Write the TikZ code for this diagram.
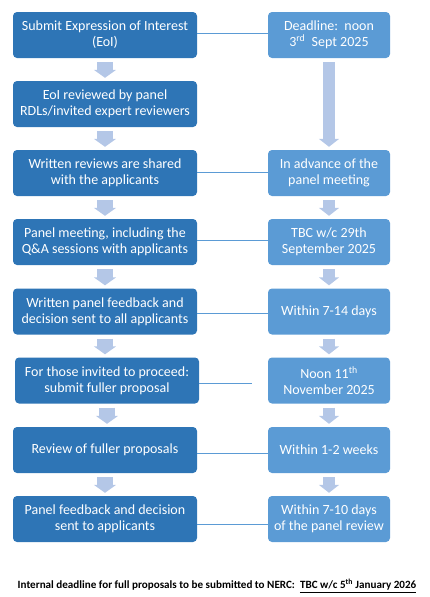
\documentclass[tikz,border=0pt]{standalone}
\usepackage{fontspec}
\setmainfont{Carlito}
\usepackage{tikz}
\usepackage{xcolor}
\usetikzlibrary{arrows.meta}
\definecolor{darkblue}{HTML}{2E75B6}
\definecolor{midblue}{HTML}{5B9BD5}
\definecolor{paleblue}{HTML}{B4C7E7}
\tikzset{
  every picture/.style={line join=round, >=Stealth},
  stepbox/.style={rectangle, rounded corners=4pt, fill=darkblue, text=white, minimum width=184pt, minimum height=46pt, align=center, inner sep=0pt, font=\fontsize{14}{16}\selectfont},
  datebox/.style={stepbox, fill=midblue, minimum width=122pt},
  link/.style={draw=midblue, line width=1pt},
  leftarrow/.style={draw=paleblue, line width=16pt, line cap=butt, -{Triangle[width=22pt,length=8pt]}},
  rightarrow/.style={draw=paleblue, line width=12pt, line cap=butt, -{Triangle[width=20pt,length=8pt]}},
}

\begin{document}
\begin{tikzpicture}[x=1pt,y=-1pt]
\useasboundingbox (0,0) rectangle (430,597);
% steps
\node[stepbox](l1) at (105,35) {Submit Expression of Interest\\(EoI)};
\node[stepbox](l2) at (105,104) {EoI reviewed by panel\\RDLs/invited expert reviewers};
\node[stepbox](l3) at (105,173) {Written reviews are shared\\with the applicants};
\node[stepbox](l4) at (105,242) {Panel meeting, including the\\Q\&A sessions with applicants};
\node[stepbox](l5) at (105,311.5) {Written panel feedback and\\decision sent to all applicants};
\node[stepbox](l6) at (107,380.5) {For those invited to proceed:\\submit fuller proposal};
\node[stepbox](l7) at (105,450) {Review of fuller proposals};
\node[stepbox](l8) at (105,519) {Panel feedback and decision\\sent to applicants};
% dates
\node[datebox](r1) at (329,35) {Deadline:~~noon\\3\textsuperscript{rd}~~Sept 2025};
\node[datebox](r3) at (329,173) {In advance of the\\panel meeting};
\node[datebox](r4) at (329,242) {TBC w/c 29th\\September 2025};
\node[datebox](r5) at (329,311.5) {Within 7-14 days};
\node[datebox](r6) at (329,380.5) {Noon 11\textsuperscript{th}\\November 2025};
\node[datebox](r7) at (329,450) {Within 1-2 weeks};
\node[datebox](r8) at (329,519) {Within 7-10 days\\of the panel review};
% arrows
\foreach \a/\b in {l1/l2,l2/l3,l3/l4,l4/l5,l5/l6,l6/l7,l7/l8}
  \draw[leftarrow]([yshift=-4pt]\a.south)--([yshift=3pt]\a.south|-\b.north);
\foreach \a/\b in {r1/r3,r3/r4,r4/r5,r5/r6,r6/r7,r7/r8}
  \draw[rightarrow]([yshift=-4pt]\a.south)--([yshift=3pt]\b.north);
% links
\draw[link]([yshift=2pt]l1.east)--([yshift=2pt]l1.east-|r1.west);
\draw[link]([yshift=1pt]l3.east)--([yshift=1pt]l3.east-|r3.west);
\draw[link]([yshift=2pt]l4.east)--([yshift=2pt]l4.east-|r4.west);
\draw[link]([yshift=-1.5pt]l5.east)--([yshift=-1.5pt]l5.east-|r5.west);
\coordinate(gap) at (252,383);
\draw[link](l6.east|-gap)--(gap);
\draw[link]([yshift=-3pt]l7.east)--([yshift=-3pt]l7.east-|r7.west);
\draw[link]([yshift=-5pt]l8.east)--([yshift=-5pt]l8.east-|r8.west);
% note
\node[font=\fontsize{11.1}{13}\selectfont\bfseries](note) at (217,586) {Internal deadline for full proposals to be submitted to NERC:~~\underline{TBC w/c 5\textsuperscript{th} January 2026}};
\end{tikzpicture}
\end{document}
